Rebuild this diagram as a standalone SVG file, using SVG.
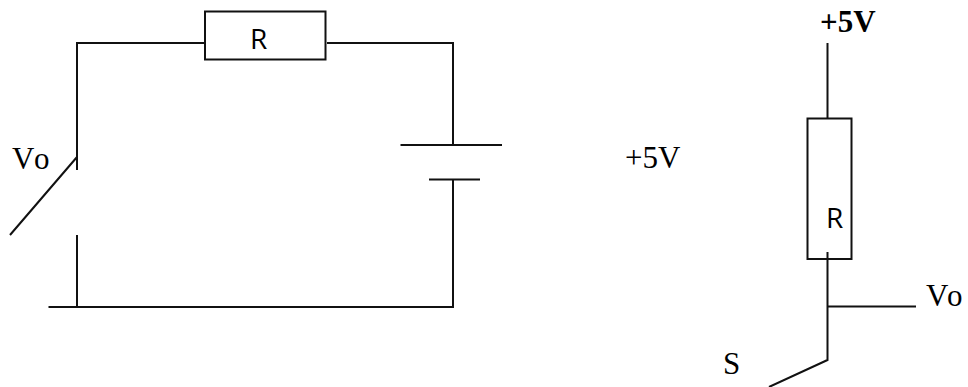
<svg xmlns="http://www.w3.org/2000/svg" width="968" height="387" viewBox="0 0 968 387">
<style>
.w{fill:none;stroke:#111;stroke-width:2}
.b{fill:#fff;stroke:#111;stroke-width:2}
.s{font-family:"Liberation Serif",serif;font-size:31px;fill:#000}
.r{font-family:"Open Sans","Noto Sans",sans-serif;font-size:28px;fill:#000}
</style>
<rect width="968" height="387" fill="#fff"/>
<g id="connectors">
<path class="w" d="M205 43H77V170M10 235L77 157M77 235V307M48.500 307H453V179M327 43H453V145M400.500 145H502M429 179.500H480"/>
<path class="w" d="M827.500 43V118M827.500 252V360L769 387M827.500 306.500H916"/>
</g>
<g id="resistor-left"><rect class="b" x="205" y="11.500" width="120.500" height="48"/><text class="r" x="250" y="49">R</text></g>
<g id="resistor-right"><rect class="w" x="807.500" y="118.500" width="44" height="140.500"/><text class="r" x="826" y="228">R</text></g>
<g id="label-vo-left"><text class="s" x="12 34" y="169">Vo</text></g>
<g id="label-5v-mid"><text class="s" x="625" y="168">+5V</text></g>
<g id="label-5v-top"><text class="s" x="820" y="32" font-weight="bold">+5V</text></g>
<g id="label-vo-right"><text class="s" x="926 947" y="306">Vo</text></g>
<g id="label-s"><text class="s" x="723" y="374">S</text></g>
</svg>
